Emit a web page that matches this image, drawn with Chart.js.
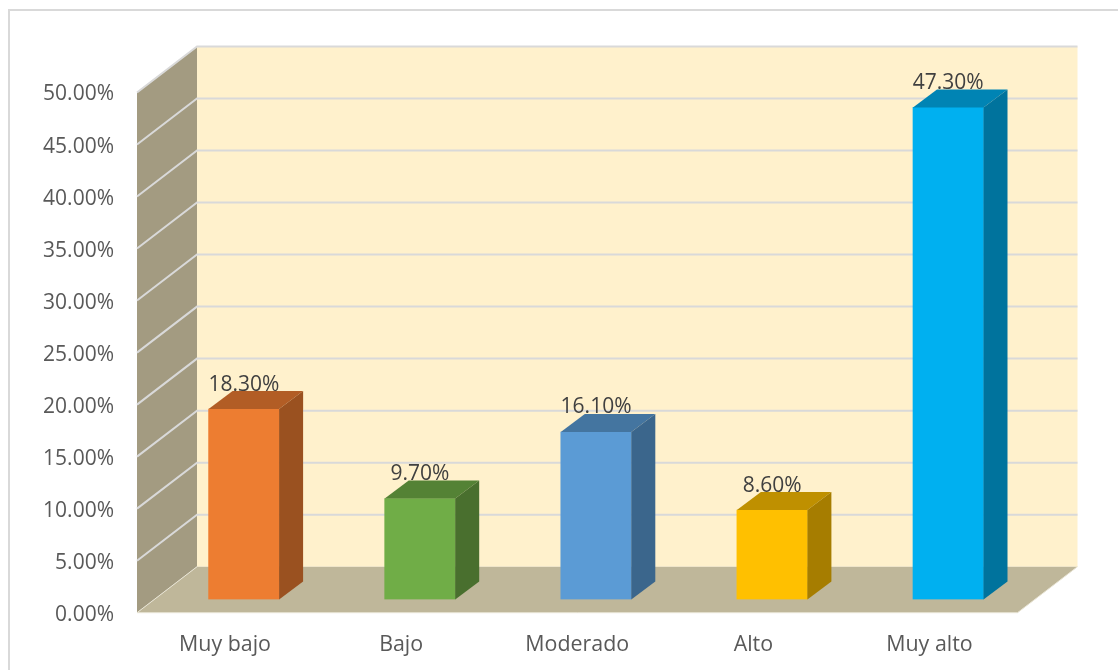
<!DOCTYPE html>
<html>
<head>
<meta charset="utf-8">
<title>Niveles</title>
<script src="https://cdn.jsdelivr.net/npm/chart.js@4"></script>
<style>
    html, body { margin: 0; padding: 0; background: #fff; }
    canvas { display: block; }
</style>
</head>
<body>
<canvas id="barChart" width="1118" height="670"></canvas>
<script>
var categories = ["Muy bajo", "Bajo", "Moderado", "Alto", "Muy alto"];
var values = [18.3, 9.7, 16.1, 8.6, 47.3];
var frontColors = ["#ed7d31", "#70ad47", "#5b9bd5", "#ffc000", "#00b0f0"];
var topColors = ["#b25d25", "#548235", "#4475a0", "#bf9000", "#0084b4"];
var sideColors = ["#9a5120", "#496f2e", "#3b668c", "#a67d00", "#00739d"];

// 3D look: wall depth, and how far the bars sit inside the floor
var wallDx = 60, wallDy = -46;
var barShiftX = 18.8, barShiftY = -13.2;
var barDx = 24, barDy = -18;

function poly(ctx, pts, fill) {
    ctx.beginPath();
    ctx.moveTo(pts[0][0], pts[0][1]);
    for (var i = 1; i < pts.length; i++) ctx.lineTo(pts[i][0], pts[i][1]);
    ctx.closePath();
    ctx.fillStyle = fill;
    ctx.fill();
}

var box3d = {
    id: 'box3d',
    beforeDraw: function (chart) {
        var ctx = chart.ctx;
        // outer frame
        ctx.save();
        ctx.strokeStyle = '#d9d9d9';
        ctx.lineWidth = 2;
        ctx.strokeRect(9, 10, 1200, 800);
        ctx.restore();
    },
    beforeDatasetsDraw: function (chart) {
        var ctx = chart.ctx, a = chart.chartArea, y = chart.scales.y;
        var l = a.left, r = a.right, t = a.top, b = a.bottom;
        ctx.save();
        // back wall, side wall, floor
        poly(ctx, [[l + wallDx, t + wallDy], [r + wallDx, t + wallDy], [r + wallDx, b + wallDy], [l + wallDx, b + wallDy]], '#fff1cc');
        poly(ctx, [[l, t], [l + wallDx, t + wallDy], [l + wallDx, b + wallDy], [l, b]], '#a39b81');
        poly(ctx, [[l, b], [l + wallDx, b + wallDy], [r + wallDx, b + wallDy], [r, b]], '#bfb79a');
        // grid lines from the scale ticks
        ctx.strokeStyle = '#d9d9d9';
        ctx.lineWidth = 2;
        y.ticks.forEach(function (tick) {
            if (tick.value === 0) return;
            var py = y.getPixelForValue(tick.value);
            ctx.beginPath();
            ctx.moveTo(l, py);
            ctx.lineTo(l + wallDx, py + wallDy);
            ctx.lineTo(r + wallDx, py + wallDy);
            ctx.stroke();
        });
        // base edge of the chart
        ctx.strokeStyle = '#e8e4d4';
        ctx.lineWidth = 1;
        ctx.beginPath();
        ctx.moveTo(l + wallDx, b + wallDy);
        ctx.lineTo(l, b);
        ctx.lineTo(r, b);
        ctx.lineTo(r + wallDx, b + wallDy);
        ctx.stroke();
        ctx.restore();
        // bars get drawn shifted into the box
        ctx.save();
        ctx.translate(barShiftX, barShiftY);
    },
    afterDatasetsDraw: function (chart) {
        var ctx = chart.ctx;
        chart.getDatasetMeta(0).data.forEach(function (bar, i) {
            var x0 = bar.x - bar.width / 2, x1 = bar.x + bar.width / 2;
            poly(ctx, [[x0, bar.y], [x0 + barDx, bar.y + barDy], [x1 + barDx, bar.y + barDy], [x1, bar.y]], topColors[i]);
            poly(ctx, [[x1, bar.y], [x1 + barDx, bar.y + barDy], [x1 + barDx, bar.base + barDy], [x1, bar.base]], sideColors[i]);
        });
        chart.getDatasetMeta(0).data.forEach(function (bar, i) {
            ctx.fillStyle = '#404040';
            ctx.font = '21px "Open Sans"';
            ctx.textAlign = 'center';
            ctx.textBaseline = 'alphabetic';
            ctx.fillText(values[i].toFixed(2) + '%', bar.x, bar.y - 18.5);
        });
        ctx.restore();
    }
};

var myBarChart = new Chart(document.getElementById('barChart'), {
    type: 'bar',
    plugins: [box3d],
    data: {
        labels: categories,
        datasets: [
            {
                data: values,
                backgroundColor: frontColors,
                borderWidth: 0,
                barThickness: 70.5
            }
        ]
    },
    options: {
        responsive: false,
        animation: false,
        layout: {
            padding: { top: 92.5, right: 100.5, left: 0, bottom: 0 }
        },
        plugins: {
            legend: { display: false },
            tooltip: { enabled: false }
        },
        scales: {
            x: {
                grid: { display: false },
                border: { display: false },
                afterFit: function (scale) { scale.height = 57.3; },
                ticks: {
                    color: '#595959',
                    padding: 11,
                    font: { family: '"Open Sans"', size: 21.4 }
                }
            },
            y: {
                min: 0,
                max: 50,
                grid: { display: false },
                border: { display: false },
                afterFit: function (scale) { scale.width = 137; },
                ticks: {
                    stepSize: 5,
                    color: '#595959',
                    padding: 15,
                    labelOffset: 2,
                    font: { family: '"Open Sans"', size: 21 },
                    callback: function (v) { return v.toFixed(2) + '%'; }
                }
            }
        }
    }
});
</script>
</body>
</html>
